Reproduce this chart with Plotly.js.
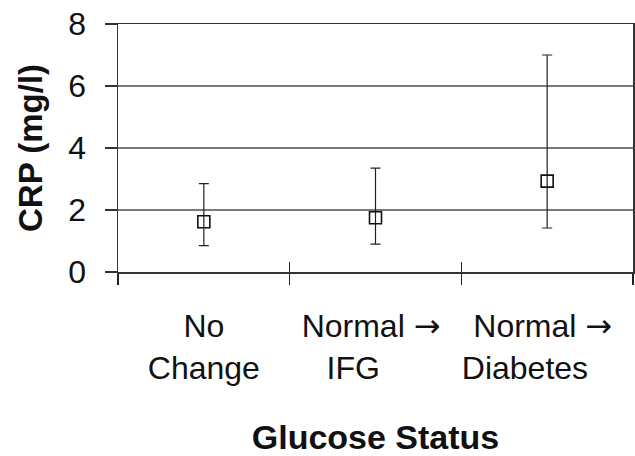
<!DOCTYPE html>
<html>
<head>
<meta charset="utf-8">
<script src="https://cdn.plot.ly/plotly-3.0.1.min.js"></script>
<style>html,body{margin:0;padding:0;background:#fff;}#chart{width:635px;height:456px;}</style>
</head>
<body>
<div id="chart"></div>
<script>
const categories = ["No Change", "Normal → IFG", "Normal → Diabetes"];
const tickLabels = [
  "No<br>Change",
  "Normal <span style=\"font-family:DejaVu Sans\">→</span> <br>IFG&nbsp;&nbsp;&nbsp;&nbsp;&nbsp;",
  "Normal <span style=\"font-family:DejaVu Sans\">→</span> <br>Diabetes&nbsp;&nbsp;&nbsp;&nbsp;&nbsp;"
];
const crpMean  = [1.62, 1.75, 2.93];
const crpLower = [0.85, 0.90, 1.42];
const crpUpper = [2.85, 3.35, 7.00];
const yTickVals = [0, 2, 4, 6, 8];

const errPlus  = crpUpper.map((u, i) => u - crpMean[i]);
const errMinus = crpMean.map((m, i) => m - crpLower[i]);

const FONT = "Liberation Sans, Arial, Helvetica, sans-serif";

const traces = [
  {
    type: "scatter", mode: "markers",
    x: categories, y: crpMean,
    marker: {symbol: "square-open", size: 12, color: "#111", line: {width: 1.6, color: "#111"}},
    error_y: {type: "data", symmetric: false, array: errPlus, arrayminus: errMinus,
              color: "#222", thickness: 1.2, width: 5},
    showlegend: false, hoverinfo: "skip"
  },
  {
    type: "scatter", mode: "markers",
    x: categories, y: crpMean, xaxis: "x2",
    marker: {opacity: 0}, showlegend: false, hoverinfo: "skip"
  }
];

const layout = {
  width: 635, height: 456,
  margin: {l: 118, r: 2, t: 24, b: 184},
  paper_bgcolor: "#fff", plot_bgcolor: "#fff",
  font: {family: FONT, color: "#111"},
  xaxis: {
    type: "category", range: [-0.5, 2.5],
    tickmode: "array", tickvals: categories, ticktext: tickLabels, tickangle: 0,
    tickson: "boundaries", ticks: "outside", ticklen: 11, tickwidth: 1.3, tickcolor: "#222",
    showgrid: false, showline: true, mirror: true, linecolor: "#333", linewidth: 1.5,
    tickfont: {family: FONT, size: 32, color: "#111"},
    ticklabelstandoff: 25,
    title: {text: "<b>Glucose Status</b>", font: {family: FONT, size: 34, color: "#111"}, standoff: 42},
    automargin: false, zeroline: false
  },
  xaxis2: {
    type: "category", overlaying: "x", matches: "x", anchor: "y", side: "bottom",
    tickson: "boundaries", ticks: "inside", ticklen: 10, tickwidth: 1.3, tickcolor: "#222",
    showticklabels: false, showgrid: false, showline: false, zeroline: false
  },
  yaxis: {
    range: [0, 8], tickvals: yTickVals, ticktext: yTickVals.map(String),
    ticks: "outside", ticklen: 12, tickwidth: 1.3, tickcolor: "#333",
    showgrid: true, gridcolor: "#7a7a7a", gridwidth: 1.5,
    showline: true, mirror: true, linecolor: "#333", linewidth: 1.5,
    zeroline: false,
    tickfont: {family: FONT, size: 32, color: "#111"},
    ticklabelstandoff: 12,
    title: {text: "<b>CRP (mg/l)</b>", font: {family: FONT, size: 33, color: "#111"}, standoff: 16},
    automargin: false
  }
};

Plotly.newPlot("chart", traces, layout, {displayModeBar: false, staticPlot: true});
</script>
</body>
</html>
